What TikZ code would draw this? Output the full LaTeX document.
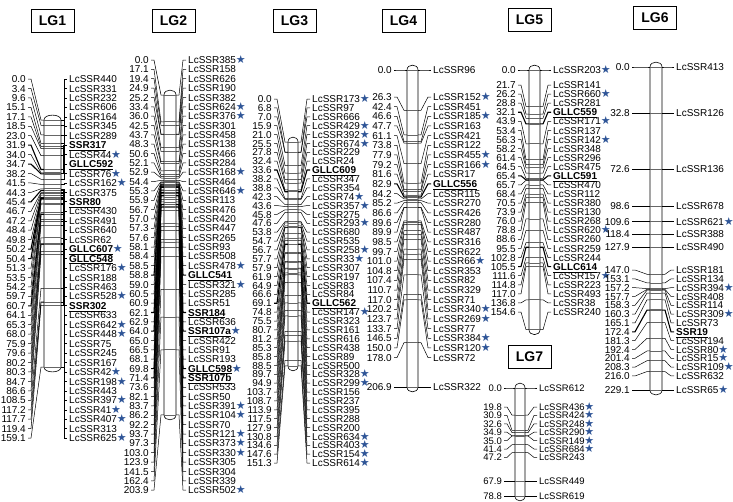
\documentclass[tikz,border=0pt]{standalone}
\usepackage{fontspec}
\setmainfont{Liberation Sans}
\newfontfamily\starfont{DejaVu Sans}
\usetikzlibrary{calc}
\definecolor{starblue}{HTML}{2F5597}
\newcommand\st{\kern-0.2pt{\starfont\fontsize{11}{11}\selectfont\textcolor{starblue}{★}}}
\newcommand\UL[1]{\gdef\curlw{1.1}\underline{\textbf{#1}}}
\def\curlw{0.5}
\def\hs{3}
\def\lfs{10}
\def\th{7.2}
\newcommand\setLG[7]{\def\lgid{#1}\def\chL{#2}\def\chR{#3}\def\numR{#4}\def\nmL{#5}\def\yz{#6}\def\sc{#7}}
\newcommand\mk[4]{%
 \gdef\curlw{0.5}%
 \pgfmathsetmacro\yc{\yz+#2*\sc}%
 \node[num] (n\lgid#1) at (\numR,#3) {#2};%
 \node[nm] (m\lgid#1) at (\nmL,#3) {#4};%
 \coordinate (cl\lgid#1) at (\chL,\yc);%
 \coordinate (cr\lgid#1) at (\chR,\yc);%
 \draw[band,line width=\curlw pt+0.2pt] (cl\lgid#1) -- (cr\lgid#1);%
 \draw[conn,line width=\curlw pt] ($(n\lgid#1.east)+(2,0)$) -- ++(\hs,0) -- ($(cl\lgid#1)+(-\hs,0)$) -- (cl\lgid#1);%
 \draw[conn,line width=\curlw pt] (cr\lgid#1) -- ++(\hs,0) -- ($(m\lgid#1.west)+(-2-\hs,0)$) -- ($(m\lgid#1.west)+(-2,0)$);%
}
\newcommand\rows[3]{\foreach \cmv/\nmx [count=\ii from 0] in {#3}{\pgfmathsetmacro\yl{#1+\ii*#2}\mk{r\ii}{\cmv}{\yl}{\nmx}}}
\newcommand\straight[1]{\foreach \cmv/\nmx [count=\ii from 0] in {#1}{\pgfmathsetmacro\yl{\yz+\cmv*\sc}\mk{s\ii}{\cmv}{\yl}{\nmx}}}
\newcommand\chrom[4]{\draw[chr] (#1,#3) -- (#1,#4) .. controls (#1,#4+6.5) and (#2,#4+6.5) .. (#2,#4) -- (#2,#3) .. controls (#2,#3-6.5) and (#1,#3-6.5) .. (#1,#3) -- cycle;}
\tikzset{
 num/.style={anchor=east,inner sep=0pt,text height=\th pt,text depth=0pt,font=\fontsize{\lfs}{\lfs}\selectfont},
 nm/.style={anchor=west,inner sep=0pt,text height=\th pt,text depth=0pt,font=\fontsize{\lfs}{\lfs}\selectfont},
 conn/.style={draw=black},
 band/.style={draw=black!60},
 chr/.style={draw=black,fill=white,line width=0.6pt},
 hdr/.style={draw=black,line width=0.8pt,fill=white,minimum width=43pt,minimum height=23pt,inner sep=0pt,font=\bfseries\fontsize{14}{14}\selectfont}
}
\begin{document}
\begin{tikzpicture}[x=1pt,y=-1pt]
\useasboundingbox (0,0) rectangle (733,501);
\fill[white] (0,0) rectangle (733,501);
% headers
\node[hdr] (h1) at (52.5,20.5) {LG1};
\node[hdr] (h2) at (173.5,20.5) {LG2};
\node[hdr] (h3) at (294.5,20.5) {LG3};
\node[hdr] (h4) at (403.5,21) {LG4};
\node[hdr] (h5) at (529.5,20) {LG5};
\node[hdr] (h6) at (655,18) {LG6};
\node[hdr] (h7) at (529.5,356.5) {LG7};
% LG1
\setLG{1}{44}{61}{26}{69}{120}{1.5525}
\chrom{44}{61}{120}{120+159.1*1.5525}
\rows{79}{9.45}{0.0/LcSSR440,3.4/LcSSR331,9.6/LcSSR232,15.1/LcSSR606,17.1/LcSSR164,18.5/LcSSR345,23.0/LcSSR289,31.9/\UL{SSR317},34.0/LcSSR44\st,34.7/\UL{GLLC592},38.2/LcSSR76\st,41.5/LcSSR162\st,44.3/LcSSR375,45.4/\UL{SSR80},46.7/LcSSR430,47.2/LcSSR491,48.4/LcSSR640,49.8/LcSSR62,50.2/\UL{GLLC607}\st,50.4/\UL{GLLC548},51.3/LcSSR176\st,53.5/LcSSR188,54.2/LcSSR463,59.7/LcSSR528\st,60.7/\UL{SSR302},64.1/LcSSR633,65.3/LcSSR642\st,68.0/LcSSR448\st,75.9/LcSSR75,79.6/LcSSR245,80.2/LcSSR167,80.3/LcSSR42\st,84.7/LcSSR198\st,86.6/LcSSR443,108.5/LcSSR397\st,117.2/LcSSR41\st,117.7/LcSSR407\st,119.4/LcSSR313,159.1/LcSSR625\st}
% LG2
\setLG{2}{164}{176}{149}{188}{95}{1.569}
\chrom{164}{176}{95}{95+203.9*1.569}
\rows{60}{9.35}{0.0/LcSSR385\st,17.1/LcSSR158,19.4/LcSSR626,24.9/LcSSR190,25.2/LcSSR382,33.4/LcSSR624\st,36.0/LcSSR376\st,42.5/LcSSR301,43.7/LcSSR458,48.3/LcSSR138,50.6/LcSSR466,52.1/LcSSR284,52.9/LcSSR168\st,54.4/LcSSR464,55.3/LcSSR646\st,55.9/LcSSR113,56.7/LcSSR476,57.0/LcSSR420,57.3/LcSSR447,57.6/LcSSR265,58.1/LcSSR93,58.4/LcSSR508,58.5/LcSSR478\st,58.8/\UL{GLLC541},59.0/LcSSR321\st,60.5/LcSSR285,60.9/LcSSR51,62.1/\UL{SSR184},62.9/LcSSR636,64.0/\UL{SSR107a}\st,65.0/LcSSR422,66.5/LcSSR91,68.1/LcSSR193,69.8/\UL{GLLC598}\st,71.4/\UL{SSR107b},73.6/LcSSR533,82.1/LcSSR50,83.7/LcSSR391\st,86.2/LcSSR104\st,92.2/LcSSR70,93.7/LcSSR121\st,97.3/LcSSR373\st,103.0/LcSSR330\st,123.9/LcSSR305,141.5/LcSSR304,162.4/LcSSR339,203.9/LcSSR502\st}
% LG3
\setLG{3}{288}{298}{272}{312}{142}{1.48}
\chrom{288}{298}{142}{142+151.3*1.48}
\rows{99}{8.88}{0.0/LcSSR173\st,6.8/LcSSR97,7.0/LcSSR666,15.9/LcSSR429\st,21.0/LcSSR392\st,25.5/LcSSR674\st,27.8/LcSSR229,32.4/LcSSR24,33.6/\UL{GLLC609},38.2/LcSSR347,38.8/LcSSR354,42.3/LcSSR74\st,43.6/LcSSR357\st,45.8/LcSSR275,47.6/LcSSR293\st,53.8/LcSSR680,54.7/LcSSR535,56.7/LcSSR258\st,57.7/LcSSR33\st,57.9/LcSSR307,61.9/LcSSR197,64.9/LcSSR83,66.6/LcSSR84,69.1/\UL{GLLC562},74.8/LcSSR147\st,75.5/LcSSR323,80.7/LcSSR161,81.2/LcSSR616,85.3/LcSSR438,85.8/LcSSR89,88.5/LcSSR500,89.7/LcSSR328\st,94.9/LcSSR299\st,103.7/LcSSR156,108.7/LcSSR237,113.9/LcSSR395,117.5/LcSSR288,127.9/LcSSR200,130.8/LcSSR634\st,134.6/LcSSR403\st,147.6/LcSSR154\st,151.3/LcSSR614\st}
% LG4
\setLG{4}{407}{418}{392}{433}{70}{1.532}
\chrom{407}{418}{70}{70+206.9*1.532}
\straight{0.0/LcSSR96,206.9/LcSSR322}
\rows{97}{9.65}{26.3/LcSSR152\st,42.4/LcSSR451,46.6/LcSSR185\st,47.7/LcSSR163,61.1/LcSSR421,73.8/LcSSR122,77.9/LcSSR455\st,79.2/LcSSR166\st,81.6/LcSSR17,82.9/\UL{GLLC556},84.2/LcSSR115,85.2/LcSSR270,86.6/LcSSR426,89.6/LcSSR280,89.9/LcSSR487,98.5/LcSSR316,99.7/LcSSR622,101.0/LcSSR66\st,104.8/LcSSR353,107.4/LcSSR82,110.7/LcSSR329,117.0/LcSSR71,120.2/LcSSR340\st,123.7/LcSSR269\st,133.7/LcSSR77,146.5/LcSSR384\st,150.0/LcSSR120\st,178.0/LcSSR72}
% LG5
\setLG{5}{529}{540}{516}{553}{70}{1.68}
\chrom{529}{540}{70}{70+154.6*1.68}
\straight{0.0/LcSSR203\st}
\rows{85}{9.08}{21.7/LcSSR141,26.2/LcSSR660\st,28.8/LcSSR281,32.1/\UL{GLLC559},43.9/LcSSR171\st,53.4/LcSSR137,56.3/LcSSR142\st,58.2/LcSSR348,61.4/LcSSR296,64.5/LcSSR475,65.4/\UL{GLLC591},65.7/LcSSR470,68.4/LcSSR112,70.5/LcSSR380,73.9/LcSSR130,76.0/LcSSR268,78.8/LcSSR620\st,88.6/LcSSR260,95.5/LcSSR259,102.8/LcSSR244,105.5/\UL{GLLC614},111.6/LcSSR157\st,114.8/LcSSR223,117.0/LcSSR493,136.8/LcSSR38,154.6/LcSSR240}
% LG6
\setLG{6}{650}{662}{630}{676}{67}{1.41}
\chrom{650}{662}{67}{67+229.1*1.41}
\straight{0.0/LcSSR413,32.8/LcSSR126,72.6/LcSSR136,98.6/LcSSR678,109.6/LcSSR621\st,118.4/LcSSR388,127.9/LcSSR490,229.1/LcSSR65\st}
\rows{270}{8.83}{147.0/LcSSR181,153.1/LcSSR134,157.2/LcSSR394\st,157.7/LcSSR408,158.3/LcSSR114,160.3/LcSSR309\st,165.1/LcSSR73,172.4/\UL{SSR19},181.3/LcSSR194,192.4/LcSSR80\st,201.4/LcSSR15\st,208.3/LcSSR109\st,216.0/LcSSR632}
% LG7
\def\lfs{9.5}\def\th{6.8}
\setLG{7}{515}{525}{502}{539}{388}{1.37}
\chrom{515}{525}{388}{388+78.8*1.37}
\straight{0.0/LcSSR612,67.9/LcSSR449,78.8/LcSSR619}
\rows{407}{8.4}{19.8/LcSSR436\st,30.9/LcSSR424\st,32.6/LcSSR248\st,34.9/LcSSR290\st,35.0/LcSSR149\st,41.4/LcSSR684\st,47.2/LcSSR243}
\end{tikzpicture}
\end{document}
